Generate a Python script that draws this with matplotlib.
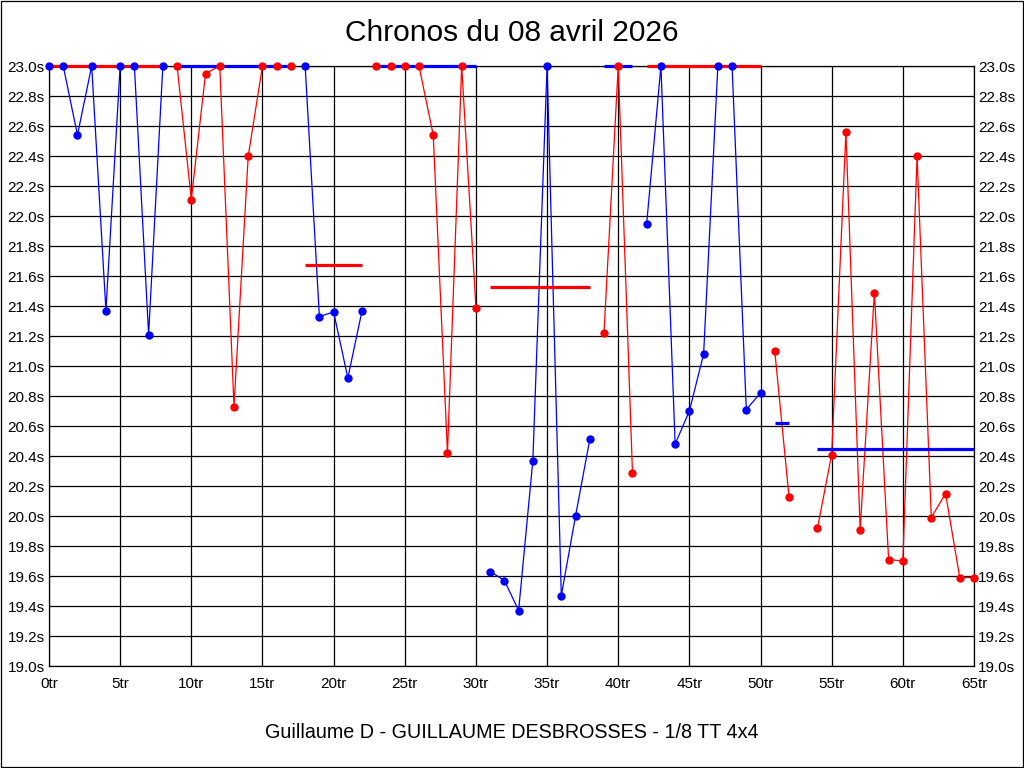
import numpy as np
import matplotlib
matplotlib.use("Agg")
import matplotlib.pyplot as plt
from matplotlib.patches import Rectangle

plt.rcParams["font.family"] = ["Liberation Sans", "DejaVu Sans"]

# lap times per run (s), shown clipped at 23.0s as in the original
run_starts = [0, 9, 18, 23, 31, 39, 42, 51, 54]
run_colors = ["#0000ff", "#ff0000", "#0000ff", "#ff0000", "#0000ff",
              "#ff0000", "#0000ff", "#ff0000", "#ff0000"]
run_times = [
    [23.0, 23.0, 22.54, 23.0, 21.37, 23.0, 23.0, 21.21, 23.0],
    [23.0, 22.11, 22.95, 23.0, 20.73, 22.40, 23.0, 23.0, 23.0],
    [23.0, 21.33, 21.36, 20.92, 21.37],
    [23.0, 23.0, 23.0, 23.0, 22.54, 20.42, 23.0, 21.39],
    [19.63, 19.57, 19.37, 20.37, 23.0, 19.47, 20.00, 20.51],
    [21.22, 23.0, 20.29],
    [21.95, 23.0, 20.48, 20.70, 21.08, 23.0, 23.0, 20.71, 20.82],
    [21.10, 20.13],
    [19.92, 20.41, 22.56, 19.91, 21.49, 19.71, 19.70, 22.40, 19.99,
     20.15, 19.59, 19.59],
]
# average of each run (clipped at 23.0s)
run_avgs = [23.0, 23.0, 21.67, 23.0, 21.53, 23.0, 23.0, 20.62, 20.45]

title = "Chronos du 08 avril 2026"
xlabel = "Guillaume D - GUILLAUME DESBROSSES - 1/8 TT 4x4"
ymin, ymax = 19.0, 23.0
xmax = 65


def other(color):
    return "#ff0000" if color == "#0000ff" else "#0000ff"


fig = plt.figure(figsize=(10.24, 7.68), dpi=100)
ax = fig.add_axes([49 / 1024, 1 - 666 / 768, 925 / 1024, 600 / 768])

for start, times, avg, col in zip(run_starts, run_times, run_avgs,
                                  run_colors):
    laps = np.arange(start, start + len(times))
    ax.plot(laps, times, color=col, lw=0.9, zorder=3)
    ax.plot([laps[0], laps[-1]], [avg, avg], color=other(col), lw=2.3,
            solid_capstyle="butt", zorder=4, clip_on=False)
    ax.plot(laps, times, "o", color=col, ms=5.0, zorder=5, clip_on=False)

ax.set_xlim(0, xmax)
ax.set_ylim(ymin, ymax)
ax.set_xticks(np.arange(0, xmax + 1, 5))
ax.set_xticklabels(["%dtr" % v for v in range(0, xmax + 1, 5)])
yt = np.round(np.arange(ymin, ymax + 0.01, 0.2), 1)
ax.set_yticks(yt)
ax.set_yticklabels(["%.1fs" % v for v in yt])
ax.tick_params(axis="both", length=0, labelsize=11, colors="black")
ax.tick_params(axis="y", labelright=True, pad=3)
ax.tick_params(axis="x", pad=8)
ax.grid(True, color="black", lw=0.9)
ax.set_axisbelow(True)
for sp in ax.spines.values():
    sp.set_linewidth(0.9)
    sp.set_color("black")

fig.text(0.5, 1 - 33 / 768, title, ha="center", va="center", fontsize=21.5)
fig.text(0.5, 1 - 733 / 768, xlabel, ha="center", va="center", fontsize=14.2)
fig.patches.append(Rectangle((0.5 / 1024, 1.5 / 768), 1022 / 1024,
                             766 / 768, transform=fig.transFigure,
                             fill=False, edgecolor="black", lw=0.9))

fig.savefig("out.png", dpi=100)
